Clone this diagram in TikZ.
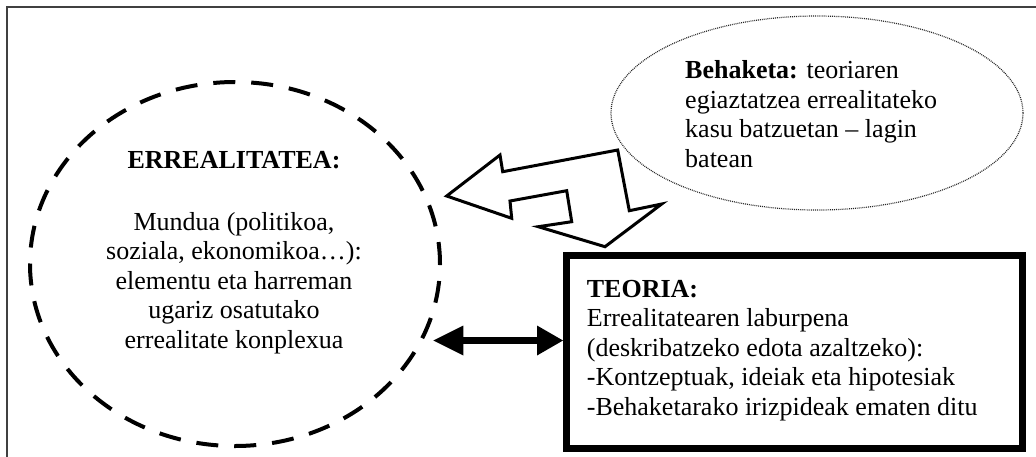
\documentclass[tikz,border=0pt]{standalone}
\usepackage{fontspec}
\setmainfont{Liberation Serif}
\usetikzlibrary{arrows.meta,shapes.geometric}

\begin{document}
\begin{tikzpicture}[x=1pt,y=-1pt,
  txt/.style={font=\fontsize{26}{29.5}\selectfont, inner sep=0pt, text=black},
  realbox/.style={draw, ellipse, line width=4pt, dash pattern=on 22pt off 16pt,
    inner sep=0pt, minimum width=410pt, minimum height=364pt},
  obsbox/.style={draw=black!85, ellipse, line width=1.2pt, dash pattern=on 0.9pt off 1pt,
    inner sep=0pt, minimum width=412pt, minimum height=194pt},
  theorybox/.style={draw, rectangle, line width=7pt, inner sep=0pt,
    minimum width=455.5pt, minimum height=193.5pt},
  bigarrow/.style={draw, line width=3pt, fill=white, line join=miter},
  linkarrow/.style={line width=7pt,
    {Triangle[length=30pt,width=30pt,line width=0pt]}-{Triangle[length=26pt,width=30pt,line width=0pt]}}
]
\useasboundingbox (0,0) rectangle (1036,456);
\clip (0,0) rectangle (1036,456);

% outer frame
\draw[line width=2pt, black!75] (7.3,7.3) rectangle (1050,470);

% reality
\node[realbox] (real) at (235,264) {};
\node[txt, align=center, anchor=north] (realtext) at (234,150.8)
  {\textbf{ERREALITATEA:}\\[32.5pt]
   Mundua (politikoa,\\
   soziala, ekonomikoa…):\\
   elementu eta harreman\\
   ugariz osatutako\\
   errealitate konplexua};

% observation
\node[obsbox] (obs) at (817,113) {};
\node[txt, align=left, anchor=north west] (obstext) at (685,60.5)
  {\textbf{Behaketa:} teoriaren\\
   egiaztatzea errealitateko\\
   kasu batzuetan – lagin\\
   batean};

% bent double arrow from observation
\path[bigarrow] (446.7,196) -- (500,155) -- (502.7,171.7) -- (617.7,150)
  -- (629.3,210.7) -- (661.7,204) -- (605,246.7) -- (538.3,226.7)
  -- (571.7,221.7) -- (566.7,190.7) -- (510,201) -- (511.7,218.3) -- cycle;

% theory
\node[theorybox] (teoria) at (794.25,351.75) {};
\node[txt, align=left, anchor=north west] (teoriatext) at (586.7,279.7)
  {\textbf{TEORIA:}\\
   Errealitatearen laburpena\\
   (deskribatzeko edota azaltzeko):\\
   -Kontzeptuak, ideiak eta hipotesiak\\
   -Behaketarako irizpideak ematen ditu};

% link between reality and theory
\coordinate (linkstart) at (433.3,340.5);
\draw[linkarrow] (linkstart) -- (linkstart -| teoria.west);
\end{tikzpicture}
\end{document}
